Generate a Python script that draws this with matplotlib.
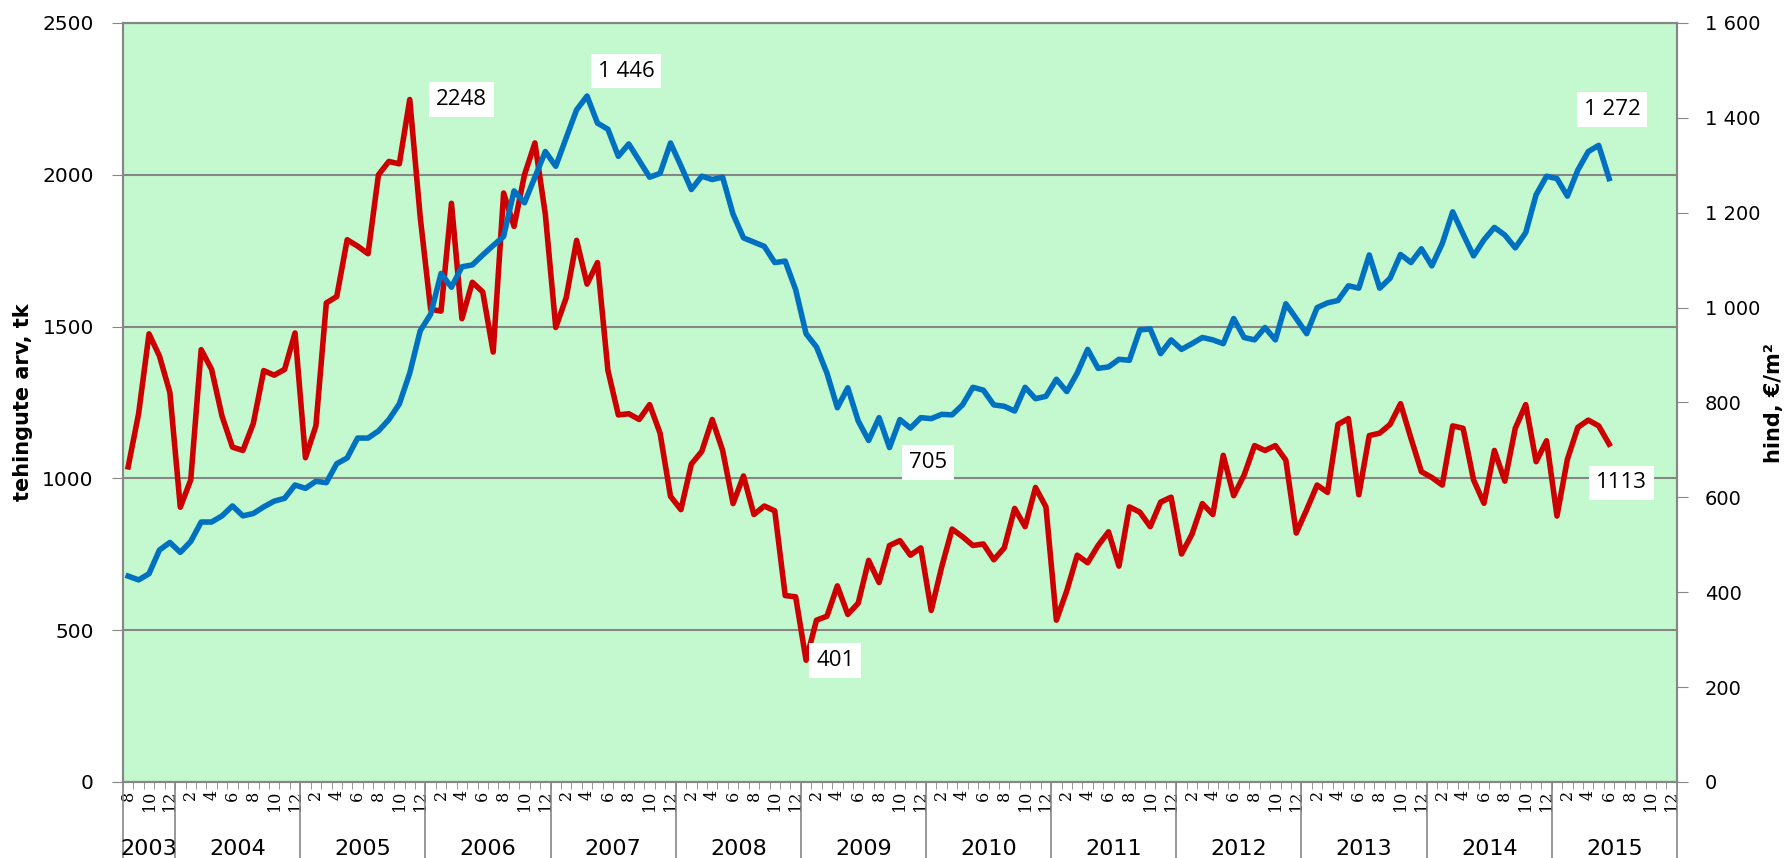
import numpy as np
import matplotlib.pyplot as plt
import matplotlib.transforms as mtransforms
from matplotlib.ticker import FuncFormatter

# monthly series, 2003-08 ... 2015-06
transactions = [1038, 1213, 1476, 1403, 1283, 905, 995, 1424, 1359, 1205, 1103, 1092, 1181,
                1355, 1340, 1359, 1479, 1068, 1173, 1578, 1599, 1786, 1765, 1740, 2000,
                2044, 2036, 2248, 1862, 1557, 1551, 1906, 1526, 1646, 1614, 1416, 1940,
                1830, 2000, 2105, 1870, 1497, 1595, 1784, 1640, 1711, 1356, 1209, 1213, 1194,
                1243, 1149, 941, 897, 1047, 1089, 1194, 1092, 917, 1008, 881, 909, 893,
                614, 610, 401, 533, 546, 646, 552, 589, 730, 657, 779, 795,
                747, 771, 565, 708, 833, 808, 779, 784, 732, 771, 901, 841, 970,
                906, 533, 630, 747, 722, 779, 824, 711, 906, 889, 841, 922,
                938, 751, 816, 917, 881, 1076, 943, 1011, 1108, 1092, 1108, 1060, 820,
                897, 978, 954, 1178, 1197, 946, 1141, 1149, 1178, 1246, 1132, 1022,
                1003, 978, 1173, 1165, 995, 918, 1092, 991, 1165, 1243, 1055, 1124,
                876, 1063, 1168, 1192, 1173, 1113]
price = [434, 426, 439, 489, 505, 484, 507, 548, 548, 561, 582, 561, 566,
         580, 592, 598, 626, 619, 634, 631, 671, 683, 725, 725, 740,
         764, 797, 862, 951, 986, 1072, 1043, 1086, 1090, 1111, 1131, 1150,
         1246, 1221, 1275, 1329, 1298, 1358, 1417, 1446, 1389, 1376, 1319, 1345, 1310,
         1275, 1283, 1347, 1299, 1249, 1277, 1270, 1275, 1197, 1147, 1138, 1129, 1095,
         1098, 1038, 945, 917, 862, 789, 831, 761, 720, 768, 705, 764,
         746, 768, 766, 775, 774, 795, 832, 826, 795, 792, 782, 832, 808,
         813, 849, 823, 862, 912, 872, 875, 891, 889, 953, 955, 903,
         932, 912, 924, 937, 932, 924, 977, 937, 932, 958, 932, 1008, 977,
         945, 1000, 1010, 1015, 1046, 1041, 1111, 1041, 1062, 1112, 1095, 1124,
         1088, 1135, 1202, 1155, 1109, 1143, 1169, 1153, 1126, 1158, 1238, 1277,
         1272, 1235, 1290, 1329, 1342, 1272]
first_month = 8
first_year = 2003
axis_months = 149  # axis runs to 2015-12

months = [(first_month - 1 + k) % 12 + 1 for k in range(axis_months)]
x = np.arange(len(transactions))

fig = plt.figure(figsize=(17.87, 8.58), dpi=100)
ax = fig.add_axes([0.0688, 0.0886, 0.8696, 0.8846])
ax2 = ax.twinx()
ax.set_facecolor('#c4f9cf')

grey = '#868686'
ax.plot(x, transactions, color='#cc0000', lw=4, solid_joinstyle='round')
ax2.plot(x, price, color='#0070c0', lw=4, solid_joinstyle='round')

ax.set_xlim(-0.5, axis_months - 0.5)
ax.set_ylim(0, 2500)
ax2.set_ylim(0, 1600)
ax.set_yticks(range(0, 2501, 500))
ax2.set_yticks(range(0, 1601, 200))
ax2.yaxis.set_major_formatter(FuncFormatter(lambda v, p: f"{v:,.0f}".replace(",", " ")))
ax.yaxis.grid(True, color=grey, lw=1.5)
ax.set_axisbelow(True)

for a in (ax, ax2):
    for s in a.spines.values():
        s.set_color(grey)
        s.set_linewidth(1.5)
ax.tick_params(axis='y', length=8, color=grey, pad=13, labelsize=14.5)
ax2.tick_params(axis='y', length=8, color=grey, pad=12, labelsize=14)

# month ticks
even = [k for k in range(axis_months) if months[k] % 2 == 0]
ax.set_xticks(even)
ax.set_xticklabels([str(months[k]) for k in even], rotation=90, fontsize=11.5,
                   family='DejaVu Serif')
ax.set_xticks(np.arange(-0.5, axis_months), minor=True)
ax.tick_params(axis='x', which='major', length=0, pad=6)
ax.tick_params(axis='x', which='minor', length=5, color=grey)

# year row
trans = mtransforms.blended_transform_factory(ax.transData, ax.transAxes)
bounds = [-0.5] + [k - 0.5 for k in range(1, axis_months) if months[k] == 1] + [axis_months - 0.5]
for b in bounds:
    ax.plot([b, b], [0, -0.15], transform=trans, color=grey, lw=1.2, clip_on=False)
for j in range(len(bounds) - 1):
    ax.text((bounds[j] + bounds[j + 1]) / 2, -0.088, str(first_year + j), transform=trans,
            ha='center', va='center', fontsize=16,
            family=['Liberation Sans Narrow', 'DejaVu Sans'])

ax.set_ylabel('tehingute arv, tk', fontsize=15, fontweight='bold',
              family=['Liberation Sans Narrow', 'DejaVu Sans'], labelpad=7)
fig.text(0.9925, 0.53, 'hind, €/m²', rotation=90, ha='center', va='center',
         fontsize=15, fontweight='bold', family=['Liberation Sans Narrow', 'DejaVu Sans'])

# value labels
box = dict(facecolor='white', edgecolor='none', pad=5)
lab = dict(fontsize=16, family='Open Sans', ha='center', va='center', bbox=box,
           textcoords='offset points')
i_max = int(np.argmax(transactions))
i_min = int(np.argmin(transactions))
p_max = int(np.argmax(price))
p_min = p_max + int(np.argmin(price[p_max:]))
last = len(price) - 1
ax.annotate(str(transactions[i_max]), xy=(i_max, transactions[i_max]), xytext=(37, 0), **lab)
ax.annotate(str(transactions[i_min]), xy=(i_min, transactions[i_min]), xytext=(21, 0), **lab)
ax.annotate(str(transactions[last]), xy=(last, transactions[last]), xytext=(9, -28), **lab)
fmt = lambda v: f"{v:,}".replace(",", " ")
ax2.annotate(fmt(price[p_max]), xy=(p_max, price[p_max]), xytext=(28, 18), **lab)
ax2.annotate(fmt(price[p_min]), xy=(p_min, price[p_min]), xytext=(28, -11), **lab)
ax2.annotate(fmt(price[last]), xy=(last, price[last]), xytext=(2, 50), **lab)

fig.savefig('out.png', dpi=100)
